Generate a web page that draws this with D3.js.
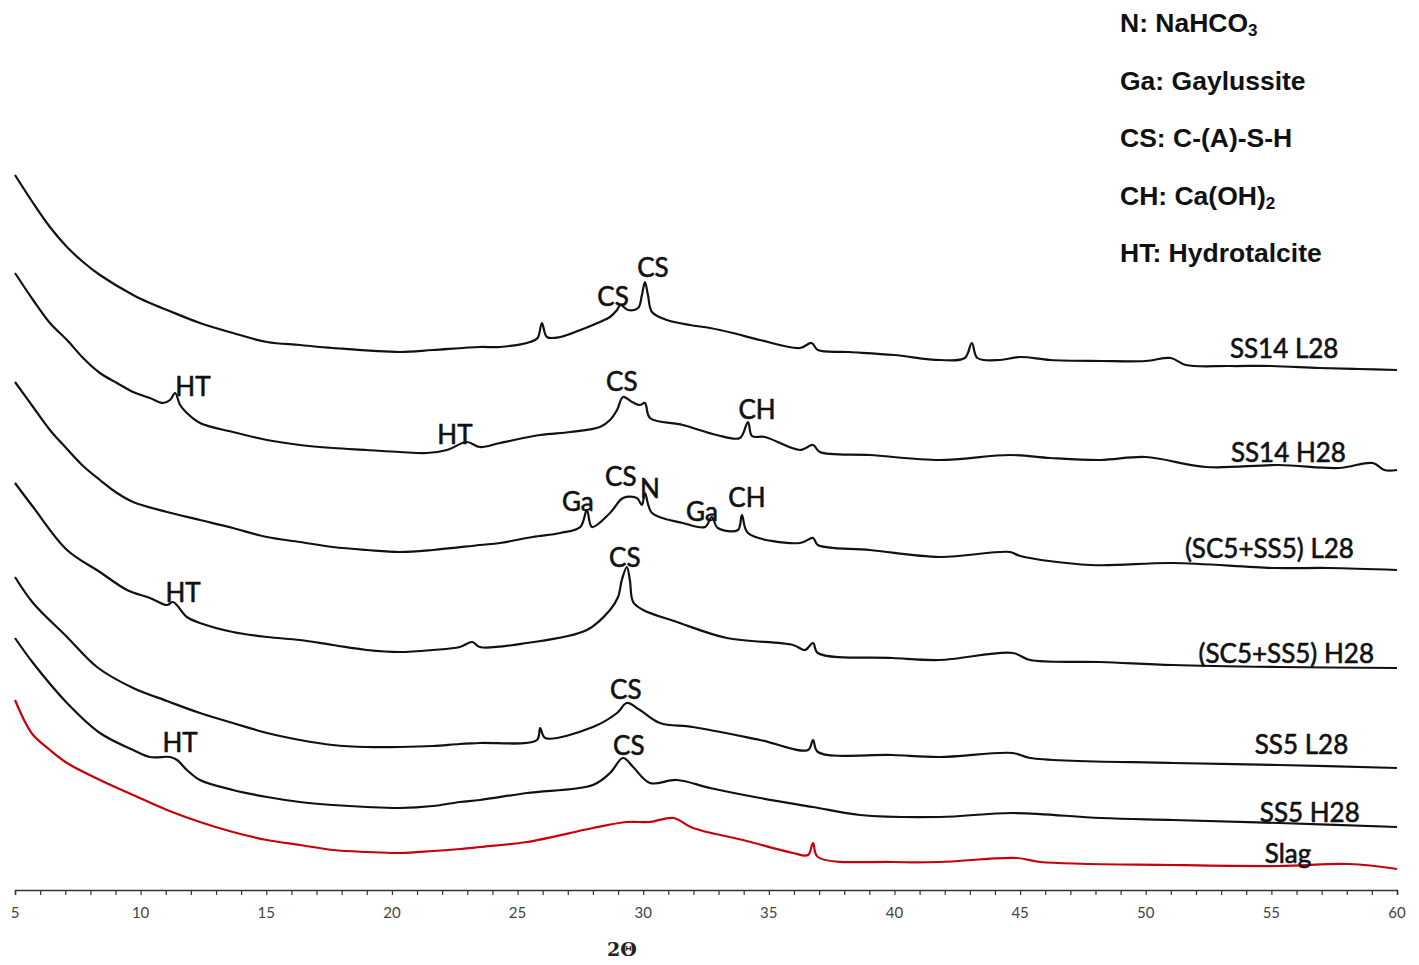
<!DOCTYPE html>
<html>
<head>
<meta charset="utf-8">
<script src="https://cdn.jsdelivr.net/npm/d3@7"></script>
<style>
  html, body { margin: 0; padding: 0; background: #fff; }
  svg { display: block; }
</style>
</head>
<body>
<div id="chart"></div>
<script>
// ---------- DATA (2θ in degrees, intensity in arbitrary units, stacked offsets as in the figure) ----------
const ss14L28 = [[5,715],[5.72,687],[6.39,663],[7.07,643],[7.71,628],[8.38,615],[9.7,595],[10.37,587],[11.05,580],[12.36,567],[13.67,557],[15.03,548],[16.34,545],[17.65,542],[20.32,538],[21.63,540],[23.5,543],[24.3,543],[25.5,548],[25.8,552],[25.97,567],[26.17,553],[26.7,553],[27.5,560],[28.28,568],[28.68,573],[28.96,580],[29.1,585],[29.4,580],[29.8,582],[29.95,595],[30.07,608],[30.19,595],[30.35,578],[30.94,570],[31.86,565],[32.66,562],[33.57,557],[34.65,550],[36.24,542],[36.7,547],[36.95,540],[38.2,538],[39.98,535],[41.8,530],[42.8,532],[43.08,547],[43.3,532],[44.2,530],[45,533],[46.2,530],[48.2,529],[50,529],[51,532],[51.6,525],[53.35,524],[55,524],[56.9,522],[58.5,521],[60,520]];
const ss14H28 = [[5,617],[5.72,590],[6.39,567],[7.07,550],[7.71,532],[8.38,517],[9.06,507],[9.7,498],[10.37,492],[10.89,487],[11.17,490],[11.37,497],[11.57,485],[11.84,477],[12.36,467],[13.67,458],[15.03,450],[16.34,445],[17.65,442],[19,440],[20.32,438],[21.39,437],[22.19,440],[22.98,448],[23.5,443],[24.3,447],[25.9,455],[27.1,458],[28.28,463],[28.68,470],[28.96,480],[29.2,493],[29.56,488],[29.87,485],[30.07,487],[30.27,472],[31.58,465],[32.93,455],[33.85,452],[34.17,468],[34.33,454],[34.85,453],[36.24,440],[36.76,445],[37.03,438],[39.02,435],[41.8,430],[44.6,435],[46.2,432],[48.2,430],[50,433],[52.4,423],[55.3,425],[57.7,422],[59.04,427],[59.5,420],[60,420]];
const sc5ss5L28 = [[5,508],[5.72,483],[6.39,460],[7.07,441],[7.71,424],[8.38,410],[9.06,397],[9.7,388],[11.05,378],[12.36,370],[13.67,362],[15.03,353],[16.34,348],[17.65,343],[19,340],[20.32,338],[21.63,340],[23.5,345],[24.3,347],[25.6,353],[26.7,357],[27.5,363],[27.76,380],[27.96,363],[28.68,377],[29.2,392],[29.75,392],[29.95,385],[30.07,397],[30.35,377],[31.58,367],[32.46,363],[32.73,373],[32.97,362],[33.77,360],[33.93,375],[34.17,357],[36.24,347],[36.76,352],[36.95,345],[39.02,340],[41.8,333],[44.6,338],[45,334],[47.8,325],[51.08,327],[55.06,322],[57.3,322],[60,320]];
const sc5ss5H28 = [[5,407],[5.72,383],[7.07,340],[8.38,318],[9.46,300],[10.37,292],[11.05,285],[11.29,288],[11.84,273],[12.36,267],[13.67,258],[15.03,253],[16.34,250],[17.65,245],[19,240],[20.32,238],[21.63,240],[22.7,243],[23.2,248],[23.5,243],[25.37,247],[27.76,260],[28.68,280],[29,293],[29.15,310],[29.35,323],[29.47,310],[29.6,288],[30,280],[31.34,268],[33.33,252],[35.96,245],[36.44,240],[36.76,247],[36.95,237],[39.94,232],[41.8,230],[44.7,237],[45.4,230],[48.2,228],[51.08,225],[55.3,223],[60,222]];
const ss5L28 = [[5,313],[5.72,287],[7.07,253],[8.26,223],[9.7,202],[11.05,189],[12.36,177],[13.67,167],[15.03,157],[16.34,150],[17.65,145],[19,143],[20.32,143],[21.63,144],[22.7,146],[23.5,147],[25.77,150],[25.9,162],[26.1,152],[28,163],[28.96,177],[29.35,187],[29.87,180],[30.67,167],[31.98,163],[34.65,150],[36.56,140],[36.76,150],[36.95,138],[39.94,135],[41.8,133],[44.7,137],[45.4,132],[51.08,127],[55.3,125],[60,122]];
const ss5H28 = [[5,252],[5.72,227],[7.07,187],[8.38,157],[9.7,140],[10.37,133],[11.17,133],[11.45,130],[11.84,120],[12.36,110],[13.67,100],[15.03,93],[16.34,88],[17.65,85],[19,83],[20.32,82],[21.63,84],[22.7,88],[23.5,90],[25.37,97],[28,105],[28.68,117],[29.2,132],[29.6,123],[30.27,107],[31.34,110],[32.66,102],[34.65,92],[36.76,83],[38.63,75],[41.8,73],[44.7,77],[48.2,72],[51.08,70],[55.3,67],[60,63]];
const slag = [[5,190],[5.4,168],[5.72,155],[6.39,140],[7.07,127],[8.38,110],[9.7,95],[11.05,80],[12.36,68],[13.67,58],[15.03,50],[16.34,45],[17.65,40],[19,38],[20.32,37],[21.63,39],[22.7,41],[23.5,43],[25.37,48],[28,62],[29.35,68],[30.27,68],[31.2,72],[31.98,62],[33.97,50],[35.96,37],[36.56,35],[36.76,47],[36.95,33],[39.94,28],[41.8,28],[44.87,32],[45.8,28],[51.08,25],[55.3,24],[58.1,26],[60,21]];

const seriesNames = ["SS14 L28","SS14 H28","(SC5+SS5) L28","(SC5+SS5) H28","SS5 L28","SS5 H28","Slag"];
const seriesData  = [ss14L28, ss14H28, sc5ss5L28, sc5ss5H28, ss5L28, ss5H28, slag];
// where each series name is written (2θ of left edge, intensity of baseline)
const nameTheta = [53.35, 53.39, 51.56, 52.1, 54.34, 54.54, 54.74];
const nameInt   = [532, 428, 332, 227, 136, 68, 27];

// peak annotations: text, 2θ (centre), intensity (baseline)
const peakText  = ["CS","CS","HT","CS","CH","HT","CS","N","Ga","Ga","CH","CS","HT","CS","HT","CS"];
const peakTheta = [30.39,28.8,12.08,29.15,34.53,22.51,29.11,30.27,27.4,32.34,34.13,29.27,11.69,29.31,11.57,29.43];
const peakInt   = [613,584,494,499,471,446,404,392,379,369,383,323,288,191,138,135];

const xTicks = d3.range(5, 61, 5);
const xMinorTicks = d3.range(5, 61, 1);

// legend: [label prefix, main text, subscript]
const legendPrefix = ["N: NaHCO","Ga: Gaylussite","CS: C-(A)-S-H","CH: Ca(OH)","HT: Hydrotalcite"];
const legendSub    = ["3","","","2",""];

// ---------- DRAWING ----------
const W = 1419, H = 965;
const svg = d3.select("#chart").append("svg").attr("width", W).attr("height", H);

const x = d3.scaleLinear().domain([5, 60]).range([15, 1397]);
const y = d3.scaleLinear().domain([0, 890]).range([890, 0]);

const line = d3.line()
  .x(d => x(d[0]))
  .y(d => y(d[1]))
  .curve(d3.curveCatmullRom.alpha(0.5));

const colors = ["#111","#111","#111","#111","#111","#111","#c8000a"];

svg.append("g").selectAll("path")
  .data(seriesData)
  .join("path")
  .attr("d", line)
  .attr("fill", "none")
  .attr("stroke", (d, i) => colors[i])
  .attr("stroke-width", 2.2)
  .attr("stroke-linejoin", "round");

// axis
const axisG = svg.append("g").attr("transform", "translate(0,890)");
axisG.call(d3.axisBottom(x).tickValues(xMinorTicks).tickSize(5).tickFormat(""));
axisG.select(".domain").attr("stroke", "#333").attr("stroke-width", 1.5);
axisG.selectAll(".tick line").attr("stroke", "#333").attr("stroke-width", 1.2);

const labG = svg.append("g");
labG.selectAll("text")
  .data(xTicks)
  .join("text")
  .attr("x", d => x(d))
  .attr("y", 918)
  .attr("text-anchor", "middle")
  .attr("font-family", "Lato, 'Open Sans', sans-serif")
  .attr("font-size", 15)
  .attr("fill", "#444")
  .text(d => d);

svg.append("text")
  .attr("x", 622).attr("y", 956)
  .attr("text-anchor", "middle")
  .attr("font-family", "'DejaVu Serif', 'Liberation Serif', serif")
  .attr("font-weight", "bold")
  .attr("font-size", 19)
  .attr("fill", "#222")
  .text("2Θ");

// series names
svg.append("g").selectAll("text")
  .data(seriesNames)
  .join("text")
  .attr("x", (d, i) => x(nameTheta[i]))
  .attr("y", (d, i) => y(nameInt[i]))
  .attr("font-family", "Lato, 'Open Sans', sans-serif")
  .attr("font-size", 26)
  .attr("fill", "#111")
  .attr("stroke", "#111")
  .attr("stroke-width", 0.6)
  .text(d => d);

// peak annotations
svg.append("g").selectAll("text")
  .data(peakText)
  .join("text")
  .attr("x", (d, i) => x(peakTheta[i]))
  .attr("y", (d, i) => y(peakInt[i]))
  .attr("text-anchor", "middle")
  .attr("font-family", "Lato, 'Open Sans', sans-serif")
  .attr("font-size", 26)
  .attr("fill", "#111")
  .attr("stroke", "#111")
  .attr("stroke-width", 0.6)
  .text(d => d);

// legend
const leg = svg.append("g");
legendPrefix.forEach((t, i) => {
  const txt = leg.append("text")
    .attr("x", 1120)
    .attr("y", 32 + i * 57.5)
    .attr("font-family", "'Liberation Sans', Arial, sans-serif")
    .attr("font-weight", "bold")
    .attr("font-size", 26.5)
    .attr("fill", "#111");
  txt.append("tspan").text(t);
  if (legendSub[i]) {
    txt.append("tspan").attr("font-size", 17).attr("dy", 4).text(legendSub[i]);
  }
});
</script>
</body>
</html>
